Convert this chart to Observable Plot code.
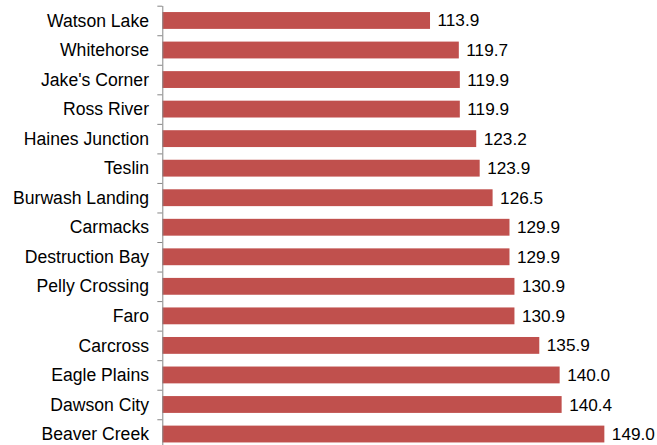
<!DOCTYPE html>
<html>
<head>
<meta charset="utf-8">
<script src="https://cdn.jsdelivr.net/npm/d3@7"></script>
<script src="https://cdn.jsdelivr.net/npm/@observablehq/plot@0.6"></script>
<style>
  html, body { margin: 0; padding: 0; background: #fff; }
  #chart svg { display: block; }
</style>
</head>
<body>
<div id="chart"></div>
<script>
const communities = ["Watson Lake", "Whitehorse", "Jake's Corner", "Ross River", "Haines Junction", "Teslin", "Burwash Landing", "Carmacks", "Destruction Bay", "Pelly Crossing", "Faro", "Carcross", "Eagle Plains", "Dawson City", "Beaver Creek"];
const prices = [113.9, 119.7, 119.9, 119.9, 123.2, 123.9, 126.5, 129.9, 129.9, 130.9, 130.9, 135.9, 140.0, 140.4, 149.0];
const axisStart = 60;

const data = communities.map((name, i) => ({name, value: prices[i]}));

const font = "'Liberation Sans', Arial, sans-serif";
const chart = Plot.plot({
  width: 657,
  height: 445,
  marginLeft: 162,
  marginRight: 0,
  marginTop: 6,
  marginBottom: 0,
  style: {fontFamily: font, fontSize: "17.6px", color: "#000", background: "#fff"},
  x: {domain: [axisStart, 159.6], range: [162.3, 657], axis: null},
  y: {domain: communities, range: [5.7, 448.8], paddingInner: 0.43, paddingOuter: 0.215, round: false, label: null},
  marks: [
    Plot.barX(data, {x1: axisStart, x2: "value", y: "name", fill: "#C0504D"}),
    Plot.ruleX([axisStart], {stroke: "#868686", strokeWidth: 1}),
    Plot.ruleY(communities, {y: d => d, x1: axisStart - 1, x2: axisStart, stroke: "#868686", dy: -14.77}),
    Plot.axisY({tickSize: 0, tickPadding: 13.5, fontSize: 17.6, fill: "#000"}),
    Plot.text(data, {x: "value", y: "name", text: d => d.value.toFixed(1), textAnchor: "start", dx: 7, fontSize: 17.2, fill: "#000"})
  ]
});
document.getElementById("chart").appendChild(chart);
</script>
</body>
</html>
